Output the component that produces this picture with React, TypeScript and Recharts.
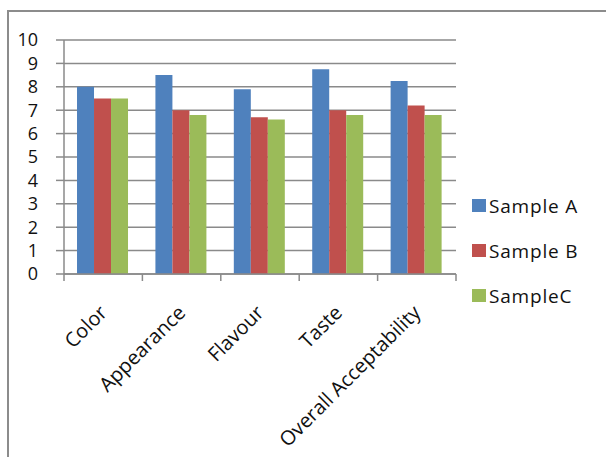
import React from "react";
import { BarChart, Bar, XAxis, YAxis, CartesianGrid } from "recharts";

const categories = ["Color", "Appearance", "Flavour", "Taste", "Overall Acceptability"];
const sampleA = [8.0, 8.5, 7.9, 8.75, 8.25];
const sampleB = [7.5, 7.0, 6.7, 7.0, 7.2];
const sampleC = [7.5, 6.8, 6.6, 6.8, 6.8];
const yTicks = [0, 1, 2, 3, 4, 5, 6, 7, 8, 9, 10];
const seriesNames = ["Sample A", "Sample B", "SampleC"];
const seriesColors = ["#4F81BD", "#C0504D", "#9BBB59"];

const data = categories.map((c, i) => ({
  name: c,
  a: sampleA[i],
  b: sampleB[i],
  c: sampleC[i],
}));

const FONT = "'Open Sans', 'DejaVu Sans', sans-serif";
const GRID = "#8a8a8a";

const XTick = (props: any) => {
  const { x, y, payload, visibleTicksCount } = props;
  const off = payload?.offset ?? 0;
  const last = payload?.index === (visibleTicksCount ?? categories.length) - 1;
  const tx = x + 5;
  const ty = y + 40;
  return (
    <g>
      <line x1={x - off} y1={y} x2={x - off} y2={y + 7} stroke={GRID} strokeWidth={1.5} />
      {last && <line x1={x + off} y1={y} x2={x + off} y2={y + 7} stroke={GRID} strokeWidth={1.5} />}
      <text
        x={tx}
        y={ty}
        textAnchor="end"
        transform={`rotate(-45, ${tx}, ${ty})`}
        fontFamily={FONT}
        fontSize={20}
        fill="#111"
      >
        {payload.value}
      </text>
    </g>
  );
};

const LegendBox = () => (
  <div style={{ position: "absolute", left: 472, top: 183, fontFamily: FONT, fontSize: 19, color: "#111" }}>
    {seriesNames.map((n, i) => (
      <div key={n} style={{ display: "flex", alignItems: "center", height: 45 }}>
        <span style={{ display: "inline-block", width: 14, height: 13, background: seriesColors[i], marginRight: 3 }} />
        <span style={{ letterSpacing: 0.8 }}>{n}</span>
      </div>
    ))}
  </div>
);

export default function App() {
  return (
    <div style={{ position: "fixed", left: 0, top: 0, width: 606, height: 457, overflow: "hidden", background: "#fff" }}>
      <div
        style={{
          position: "absolute",
          left: 7,
          top: 10,
          width: 700,
          height: 600,
          borderLeft: "2px solid #8c8c8c",
          borderTop: "2px solid #8c8c8c",
        }}
      />
      <div style={{ position: "absolute", left: 0, top: 0 }}>
        <BarChart
          width={606}
          height={457}
          data={data}
          margin={{ top: 40, right: 150, left: 8, bottom: 33 }}
          barCategoryGap="16.6%"
          barGap={0}
        >
          <CartesianGrid vertical={false} stroke={GRID} strokeWidth={1.5} />
          <XAxis
            dataKey="name"
            interval={0}
            tickLine={false}
            tickSize={0}
            tickMargin={0}
            height={150}
            axisLine={{ stroke: GRID, strokeWidth: 1.5 }}
            tick={<XTick />}
          />
          <YAxis
            width={56}
            domain={[0, 10]}
            ticks={yTicks}
            interval={0}
            tickSize={8}
            tickMargin={18}
            axisLine={{ stroke: GRID, strokeWidth: 1.5 }}
            tickLine={{ stroke: GRID, strokeWidth: 1.5 }}
            tick={{ fontFamily: FONT, fontSize: 18, fill: "#111" }}
          />
          <Bar dataKey="a" name={seriesNames[0]} fill={seriesColors[0]} isAnimationActive={false} />
          <Bar dataKey="b" name={seriesNames[1]} fill={seriesColors[1]} isAnimationActive={false} />
          <Bar dataKey="c" name={seriesNames[2]} fill={seriesColors[2]} isAnimationActive={false} />
        </BarChart>
      </div>
      <LegendBox />
    </div>
  );
}
